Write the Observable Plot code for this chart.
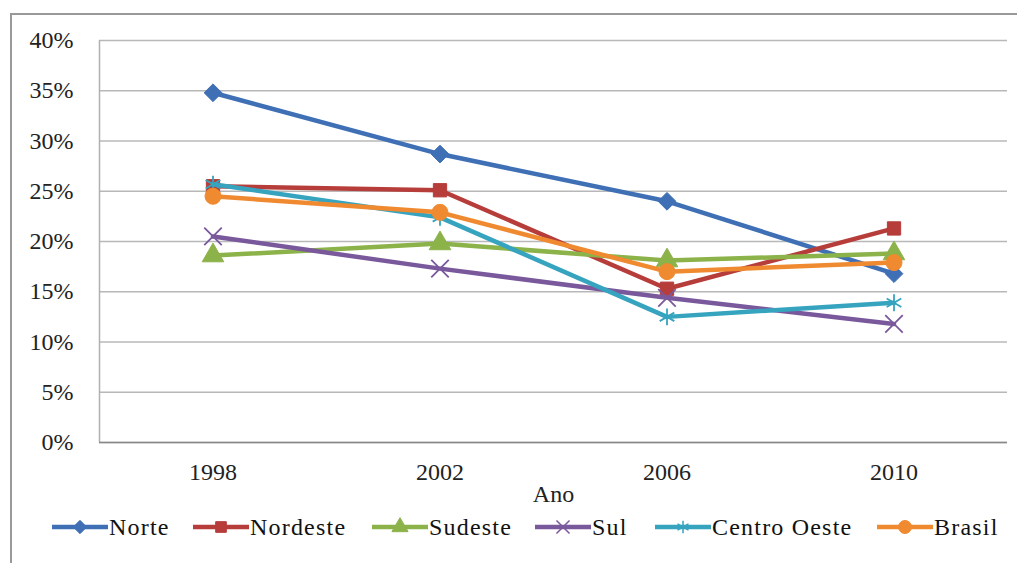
<!DOCTYPE html>
<html>
<head>
<meta charset="utf-8">
<script src="https://cdn.jsdelivr.net/npm/d3@7"></script>
<script src="https://cdn.jsdelivr.net/npm/@observablehq/plot@0.6"></script>
<style>
  html, body { margin: 0; padding: 0; background: #fff; }
  #wrap { position: relative; width: 1017px; height: 563px; overflow: hidden; font-family: "Liberation Serif", "Times New Roman", "DejaVu Serif", serif; }
  #frame { position: absolute; left: 10px; top: 13px; width: 1100px; height: 600px; border-top: 2px solid #999; border-left: 2px solid #999; pointer-events: none; }
  #chart { position: absolute; left: 0; top: 0; }
  #legend { position: absolute; left: 0; top: 510px; width: 1017px; height: 53px; }
  .item { position: absolute; top: 5px; display: flex; align-items: center; height: 24px; font-size: 24px; letter-spacing: 1.2px; color: #111; white-space: nowrap; }
  .item svg { margin-right: 1px; }
</style>
</head>
<body>
<div id="wrap">
  <div id="chart"></div>
  <div id="legend"></div>
  <div id="frame"></div>
</div>
<script>
const years = [1998, 2002, 2006, 2010];
const seriesNames = ["Norte", "Nordeste", "Sudeste", "Sul", "Centro Oeste", "Brasil"];
const norte = [0.348, 0.287, 0.240, 0.168];
const nordeste = [0.255, 0.251, 0.153, 0.213];
const sudeste = [0.186, 0.198, 0.181, 0.188];
const sul = [0.205, 0.173, 0.144, 0.118];
const centroOeste = [0.257, 0.224, 0.125, 0.139];
const brasil = [0.245, 0.229, 0.170, 0.179];
const yTicks = [0, 0.05, 0.10, 0.15, 0.20, 0.25, 0.30, 0.35, 0.40];

const seriesValues = [norte, nordeste, sudeste, sul, centroOeste, brasil];
const colors = ["#3f70b5", "#b63d3a", "#8cb24a", "#7a589c", "#36a4bf", "#f08a30"];
const symbols = ["diamond2", "square", "triangle", "times", "asterisk", "circle"];
const symbolFilled = [true, true, true, false, false, true];
const symbolR = [8, 7.5, 8, 8, 8, 8];
const legendR = [6, 6, 6, 6, 6, 6.5];

const rows = [];
seriesNames.forEach((name, i) => {
  years.forEach((yr, j) => rows.push({series: name, year: yr, value: seriesValues[i][j]}));
});

const marks = [
  Plot.gridY(yTicks, {stroke: "#b8b8b8", strokeOpacity: 1, strokeWidth: 1.5}),
  Plot.ruleX([1996], {stroke: "#b0b0b0", strokeWidth: 1.5}),
  Plot.ruleY([0], {stroke: "#888", strokeWidth: 1.5}),
  Plot.axisY({ticks: yTicks, tickFormat: d3.format(".0%"), tickSize: 0, tickPadding: 26, label: null, fontSize: 24, fill: "#222"}),
  Plot.axisX({ticks: years, tickFormat: d => String(d), tickSize: 0, tickPadding: 20, fontSize: 24, fill: "#222", label: "Ano", labelAnchor: "center", labelArrow: "none", labelOffset: 59})
];
seriesNames.forEach((name, i) => {
  const data = rows.filter(d => d.series === name);
  marks.push(Plot.line(data, {x: "year", y: "value", stroke: colors[i], strokeWidth: 4.5}));
  marks.push(Plot.dot(data, {
    x: "year", y: "value", symbol: () => symbols[i], r: symbolR[i],
    fill: symbolFilled[i] ? colors[i] : "none",
    stroke: colors[i], strokeWidth: symbolFilled[i] ? 1 : 1.8
  }));
});

const chart = Plot.plot({
  width: 1017,
  height: 510,
  marginLeft: 99,
  marginRight: 10,
  marginTop: 40,
  marginBottom: 68,
  style: {fontFamily: "'Liberation Serif', 'Times New Roman', serif", fontSize: "24px", color: "#222", background: "transparent"},
  x: {type: "linear", domain: [1996, 2012]},
  y: {domain: [0, 0.4]},
  symbol: {type: "ordinal"},
  marks
});
document.getElementById("chart").appendChild(chart);

// Legend
const legendX = [52, 193, 372, 535, 655, 877];
const legend = document.getElementById("legend");
const symMap = {diamond2: d3.symbolDiamond2, square: d3.symbolSquare, triangle: d3.symbolTriangle,
  times: d3.symbolTimes, asterisk: d3.symbolAsterisk, circle: d3.symbolCircle};
seriesNames.forEach((name, i) => {
  const item = document.createElement("div");
  item.className = "item";
  item.style.left = legendX[i] + "px";
  const w = 56, h = 24;
  const svg = d3.create("svg").attr("width", w).attr("height", h);
  svg.append("line").attr("x1", 0).attr("x2", w).attr("y1", h / 2).attr("y2", h / 2)
    .attr("stroke", colors[i]).attr("stroke-width", 4.5);
  const r = legendR[i];
  svg.append("path")
    .attr("d", d3.symbol(symMap[symbols[i]], Math.PI * r * r)())
    .attr("transform", `translate(${w / 2},${h / 2})`)
    .attr("fill", symbolFilled[i] ? colors[i] : "none")
    .attr("stroke", colors[i]).attr("stroke-width", symbolFilled[i] ? 1 : 1.5);
  item.appendChild(svg.node());
  const span = document.createElement("span");
  span.textContent = name;
  item.appendChild(span);
  legend.appendChild(item);
});
</script>
</body>
</html>
